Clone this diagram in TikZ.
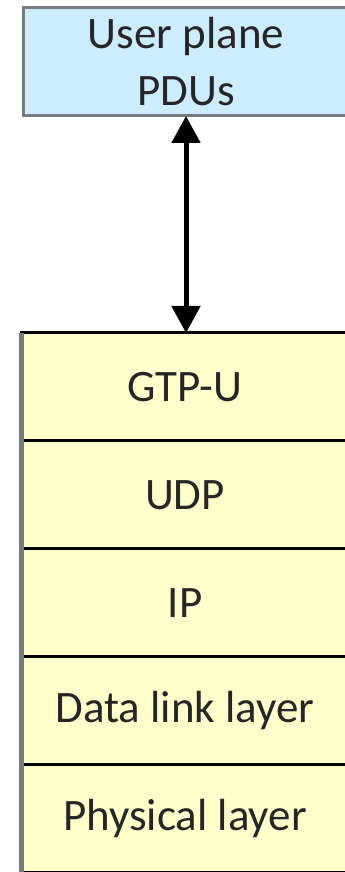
\documentclass[tikz,border=0pt]{standalone}
\usepackage{fontspec}
\setmainfont{Carlito}
\usetikzlibrary{positioning,arrows.meta}
\definecolor{pdublue}{RGB}{204,236,255}
\definecolor{layeryellow}{RGB}{255,255,204}
\definecolor{edgegrey}{RGB}{120,124,128}
\begin{document}
\begin{tikzpicture}[x=1pt,y=1pt,
    every node/.style={font=\fontsize{45}{57}\selectfont, text=black!85, inner sep=0pt, outer sep=0pt},
    pdubox/.style={draw=edgegrey, fill=pdublue, line width=3pt, minimum width=326pt, minimum height=108pt, align=center},
    layer/.style={draw=black, fill=layeryellow, line width=3pt, minimum width=328pt, minimum height=108pt}]
    \useasboundingbox (0,0) rectangle (345,872);
    \node[pdubox, anchor=north west] (pdus) at (23,864) {User plane\\PDUs};
    \node[layer, anchor=north west] (gtpu) at (21,539) {GTP-U};
    \node[layer, below=0pt of gtpu] (udp) {UDP};
    \node[layer, below=0pt of udp] (ip) {IP};
    \node[layer, below=0pt of ip] (datalink) {Data link layer};
    \node[layer, below=0pt of datalink] (physical) {Physical layer};
    \draw[edgegrey, line width=5pt] (gtpu.north west) -- (physical.south west);
    \draw[line width=5pt, {Triangle[width=28pt,length=27pt]}-{Triangle[width=28pt,length=27pt]}] (pdus.south) -- (pdus.south |- gtpu.north);
\end{tikzpicture}
\end{document}
